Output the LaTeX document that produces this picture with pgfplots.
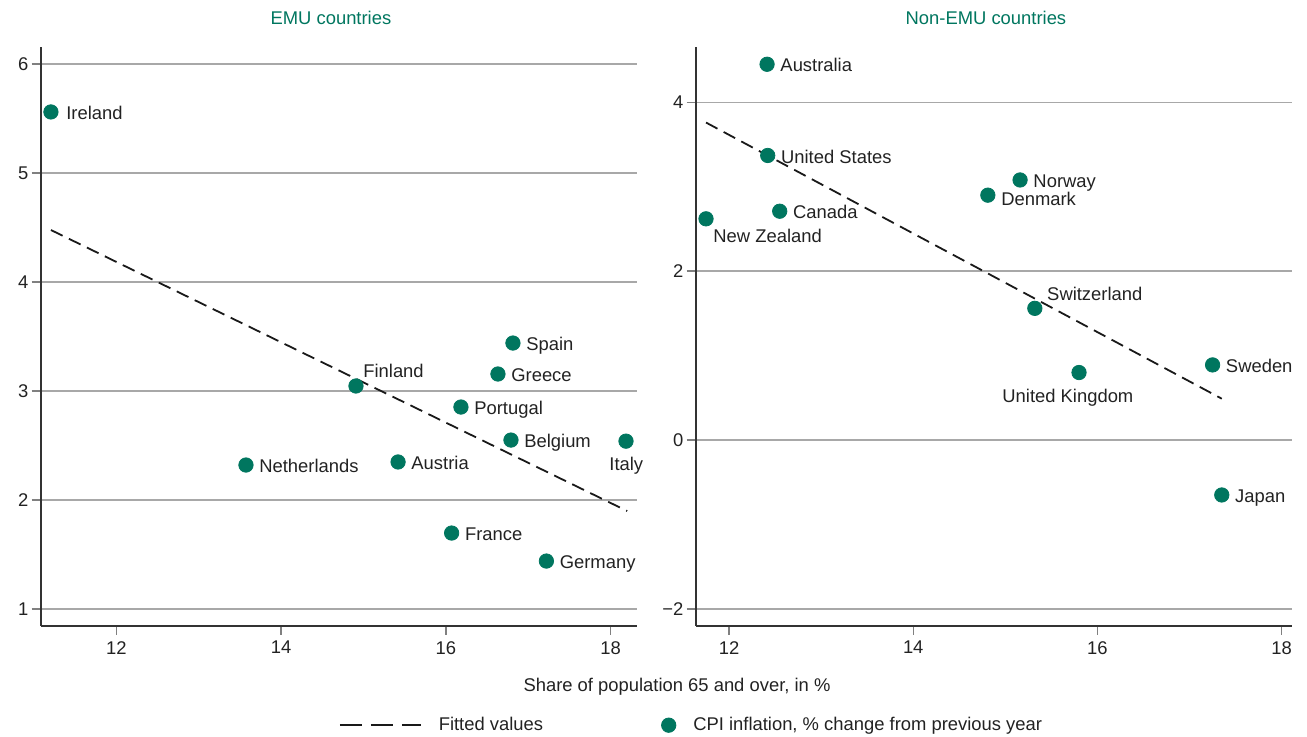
\documentclass[border=0pt]{standalone}
\usepackage{fontspec}
\setmainfont{Liberation Sans}
\usepackage{pgfplots}
\pgfplotsset{compat=1.18}
\definecolor{ecbgreen}{HTML}{00765F}
\definecolor{gridgray}{HTML}{A8A8A8}
\definecolor{txt}{HTML}{222222}

\newcommand{\fs}{\fontsize{9.2}{11}\selectfont}

\begin{document}
\fs
\begin{tikzpicture}
\useasboundingbox (0,0) rectangle (653.5pt,368pt);
\pgfplotsset{
  panel/.style={
    scale only axis, width=298pt, height=289.2pt,
    anchor=south west,
    axis x line*=bottom, axis y line*=left,
    ymajorgrids, grid style={gridgray, line width=0.7pt},
    tick align=outside, major tick length=4.5pt,
    tick style={gray, line width=0.7pt},
    axis line style={black!80, line width=0.9pt},
    ticklabel style={font=\fs, text=txt},
    yticklabel style={inner sep=1.5pt},
    /pgf/number format/assume math mode=true,
    clip=false,
    every axis title shift=0pt,
    title style={font=\fs, text=ecbgreen, anchor=center},
    xtick={12,14,16,18},
  },
  scat/.style 2 args={
    only marks, mark=*, mark size=3.6pt, color=ecbgreen,
    nodes near coords, point meta=explicit symbolic,
    every node near coord/.append style={anchor=west, inner sep=0pt, text=txt, font=\fs,
      text height=0.716em, text depth=0pt, xshift=#1*0.5pt, yshift=#2*0.5pt},
  },
  fit/.style={black!90, line width=0.9pt, dash pattern=on 6.5pt off 3.5pt},
}
\begin{axis}[panel, at={(20.35pt,55.15pt)},
  xmin=11.083, xmax=18.316, ymin=0.847, ymax=6.153,
  ytick={1,2,3,4,5,6},
  title={EMU countries}, title style={at={(0.487,1.0507)}, anchor=center},
  xlabel={Share of population 65 and over, in \%},
  xlabel style={at={(1.0676,-0.106)}, anchor=center, font=\fs, text=txt},
  legend style={at={(0.5005,-0.172)}, anchor=west, draw=none, fill=none,
    inner sep=0pt, outer sep=0pt, legend columns=2, font=\fs, text=txt,
    nodes={inner sep=0pt, anchor=west},
    /tikz/every odd column/.append style={column sep=8.5pt},
    /tikz/every even column/.append style={column sep=59pt}},
]
\addplot[fit, forget plot] coordinates {(11.207,4.477) (18.2,1.899)};
\addplot[scat={13}{-1}, forget plot] coordinates {
  (16.814,3.44) [Spain]
  (16.632,3.156) [Greece]
  (16.183,2.853) [Portugal]
  (16.79,2.55) [Belgium]
  (13.574,2.321) [Netherlands]
  (15.42,2.349) [Austria]
  (16.07,1.697) [France]
  (17.22,1.44) [Germany]
};
\addplot[scat={15}{-1}, forget plot] coordinates {(11.207,5.56) [Ireland]};
\addplot[scat={7}{15}, forget plot] coordinates {(14.909,3.046) [Finland]};
\addplot[scat={-17}{-23}, forget plot] coordinates {(18.186,2.54) [Italy]};
\addlegendimage{legend image code/.code={\draw[black!90, line width=0.9pt, dash pattern=on 11pt off 4.5pt] (0pt,0pt) -- (40.5pt,0pt);}}
\addlegendentry{Fitted values}
\addlegendimage{legend image code/.code={\fill[ecbgreen] (0pt,0pt) circle (3.6pt);}}
\addlegendentry{CPI inflation, \% change from previous year}
\end{axis}

\begin{axis}[panel, at={(347.85pt,55.15pt)},
  xmin=11.638, xmax=18.109, ymin=-2.198, ymax=4.651,
  ytick={-2,0,2,4}, yticklabels={−2,0,2,4},
  title={Non-EMU countries}, title style={at={(0.487,1.0507)}, anchor=center},
]
\addplot[fit] coordinates {(11.75,3.76) (17.35,0.49)};
\addplot[scat={13}{-1}] coordinates {
  (12.413,4.45) [Australia]
  (12.42,3.37) [United States]
  (15.16,3.08) [Norway]
  (12.55,2.71) [Canada]
  (17.25,0.89) [Sweden]
  (17.35,-0.65) [Japan]
};
\addplot[scat={13}{-4}] coordinates {(14.81,2.90) [Denmark]};
\addplot[scat={7}{-17}] coordinates {(11.75,2.62) [New Zealand]};
\addplot[scat={12}{14}] coordinates {(15.32,1.56) [Switzerland]};
\addplot[scat={-77}{-23}] coordinates {(15.80,0.80) [United Kingdom]};
\end{axis}
\end{tikzpicture}
\end{document}
